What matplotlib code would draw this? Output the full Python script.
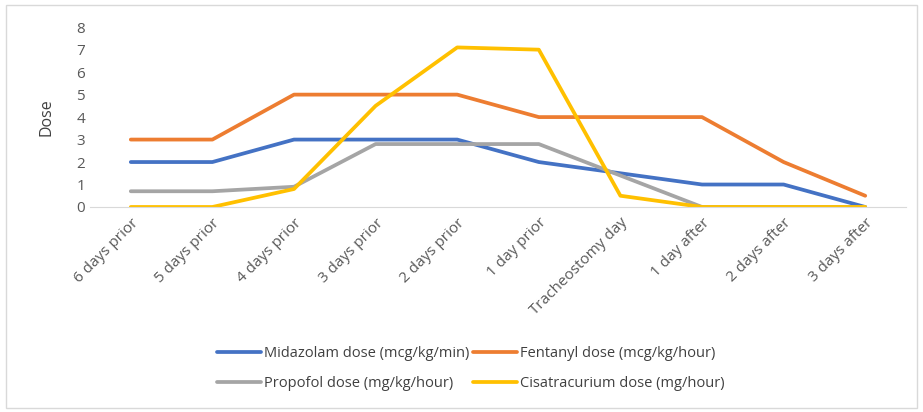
import matplotlib.pyplot as plt
from matplotlib.patches import Rectangle

days = ['6 days prior', '5 days prior', '4 days prior', '3 days prior', '2 days prior',
        '1 day prior', 'Tracheostomy day', '1 day after', '2 days after', '3 days after']

midazolam = [2, 2, 3, 3, 3, 2, 1.5, 1, 1, 0]
fentanyl = [3, 3, 5, 5, 5, 4, 4, 4, 2, 0.5]
propofol = [0.7, 0.7, 0.9, 2.8, 2.8, 2.8, 1.4, 0, 0, 0]
cisatracurium = [0, 0, 0.8, 4.5, 7.1, 7.0, 0.5, 0, 0, 0]

labels = ['Midazolam dose (mcg/kg/min)', 'Fentanyl dose (mcg/kg/hour)',
          'Propofol dose (mg/kg/hour)', 'Cisatracurium dose (mg/hour)']
colors = ['#4472C4', '#ED7D31', '#A5A5A5', '#FFC000']

plt.rcParams['font.family'] = ['Open Sans', 'DejaVu Sans']

fig = plt.figure(figsize=(9.23, 4.12), dpi=100)
fig.patches.append(Rectangle((0.006, 0.01), 0.988, 0.978, transform=fig.transFigure,
                             fill=False, edgecolor='#D9D9D9', linewidth=1))
ax = fig.add_axes([0.0975, 0.4976, 0.8841, 0.4364])

x = range(len(days))
lines = []
for series, lab, col in zip([midazolam, fentanyl, propofol, cisatracurium], labels, colors):
    ln, = ax.plot(x, series, color=col, linewidth=2.7, label=lab, solid_capstyle='round')
    lines.append(ln)

ax.set_xlim(-0.5, len(days) - 0.5)
ax.set_ylim(0, 8)
ax.set_yticks(range(0, 9))
ax.set_xticks(list(x))
ax.set_xticklabels(days, rotation=45, ha='right', rotation_mode='anchor')
ax.tick_params(axis='both', length=0, labelsize=11, colors='#595959')
ax.tick_params(axis='x', pad=6)
for s in ['top', 'right', 'left']:
    ax.spines[s].set_visible(False)
ax.spines['bottom'].set_color('#D9D9D9')
ax.set_ylabel('Dose', fontsize=11.5, color='#404040', labelpad=16)

# legend filled row by row like the original
order = [0, 2, 1, 3]
fig.legend([lines[i] for i in order], [labels[i] for i in order],
           loc='center', bbox_to_anchor=(0.51, 0.105), ncol=2, frameon=False,
           fontsize=10.5, handlelength=3, columnspacing=0.3, handletextpad=0.2,
           labelspacing=1.0, labelcolor='#404040')

fig.savefig('out.png', dpi=100)
